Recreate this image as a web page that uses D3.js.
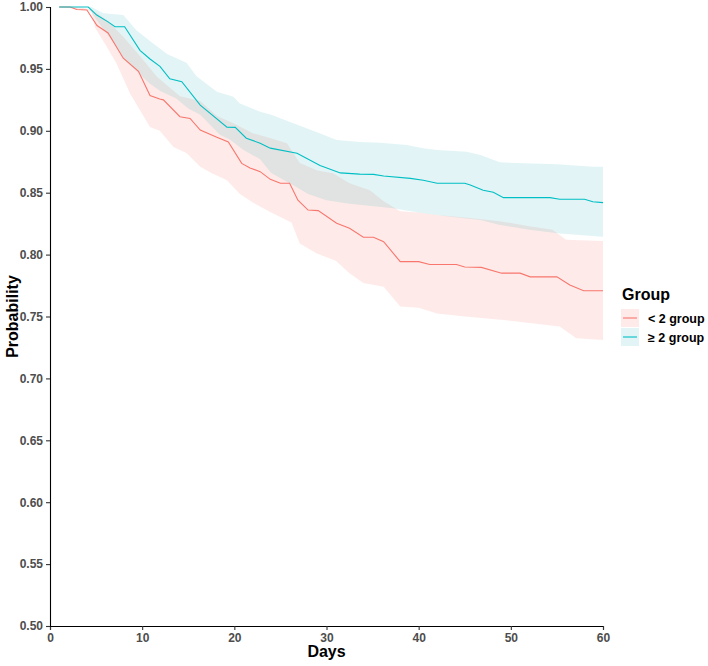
<!DOCTYPE html>
<html>
<head>
<meta charset="utf-8">
<script src="https://cdn.jsdelivr.net/npm/d3@7"></script>
<style>
  html, body { margin: 0; padding: 0; background: #fff; }
  svg { display: block; font-family: "Liberation Sans", Arial, sans-serif; }
</style>
</head>
<body>
<svg id="chart" width="708" height="666"></svg>
<script>
// ---------- DATA ----------
const groups = ["< 2 group", "\u2265 2 group"];
const xTicks = [0, 10, 20, 30, 40, 50, 60];
const yTicks = [0.50, 0.55, 0.60, 0.65, 0.70, 0.75, 0.80, 0.85, 0.90, 0.95, 1.00];

// < 2 group : survival line
const lowDays = [1, 2.2, 2.9, 4.0, 5.1, 6.3, 7.95, 9.6, 10.85, 11.9, 12.3, 14.1, 15.2, 16.3, 18.1, 19.35, 20.8, 21.7, 22.8, 23.9, 25.0, 26.0, 26.9, 28.0, 29.1, 31.1, 32.5, 34.0, 35.1, 36.2, 38.0, 40.0, 41.2, 44.1, 45.0, 46.8, 49.0, 51.0, 52.1, 55.0, 56.4, 57.9, 60];
const lowSurv = [1, 1, 0.998, 0.9976, 0.985, 0.979, 0.9586, 0.948, 0.9285, 0.9257, 0.925, 0.9114, 0.910, 0.9006, 0.8947, 0.891, 0.8737, 0.870, 0.867, 0.8608, 0.8576, 0.8576, 0.844, 0.836, 0.8355, 0.8253, 0.8212, 0.814, 0.814, 0.8104, 0.7943, 0.7943, 0.792, 0.792, 0.790, 0.7897, 0.785, 0.785, 0.782, 0.782, 0.7754, 0.7708, 0.7708];
// < 2 group : confidence band
const lowUpperDays = [1, 3, 4.5, 6.15, 7.95, 9.8, 11.6, 14.1, 16.3, 18.1, 19.9, 22, 23.5, 25.7, 27.1, 29, 30.7, 32.5, 34.7, 36.2, 38, 40, 42, 45, 48.8, 52, 54.5, 56, 60];
const lowUpper = [1, 1, 0.998, 0.9895, 0.976, 0.96, 0.9437, 0.928, 0.924, 0.912, 0.906, 0.898, 0.895, 0.890, 0.874, 0.868, 0.8657, 0.8576, 0.852, 0.843, 0.835, 0.834, 0.832, 0.830, 0.827, 0.823, 0.820, 0.812, 0.811];
const lowLowerDays = [1, 4.0, 4.5, 4.9, 6, 7.2, 8.7, 10.85, 11.9, 13.4, 14.8, 16.3, 17.5, 19.2, 20.6, 22, 24, 26.2, 27.1, 28.9, 31, 32.5, 34, 36.2, 38, 40, 42, 45, 49.5, 55.3, 57.1, 60];
const lowLower = [1, 0.9976, 0.996, 0.983, 0.97, 0.9545, 0.930, 0.903, 0.9, 0.887, 0.882, 0.871, 0.866, 0.860, 0.849, 0.842, 0.834, 0.826, 0.809, 0.801, 0.795, 0.785, 0.777, 0.774, 0.758, 0.757, 0.7525, 0.750, 0.747, 0.742, 0.7324, 0.731];

// >= 2 group : survival line
const highDays = [1, 4.15, 5.07, 6.3, 7.05, 8.1, 9.76, 10.85, 11.93, 13.0, 14.3, 16.3, 19.2, 20.1, 21.3, 22.8, 23.9, 26.8, 29.3, 31.5, 33.6, 35.1, 36.2, 39.1, 40.5, 42.0, 45.0, 45.6, 47.0, 48.1, 49.2, 54.25, 55.3, 58.0, 58.9, 60];
const highSurv = [1, 1, 0.9935, 0.988, 0.984, 0.984, 0.965, 0.958, 0.952, 0.942, 0.9397, 0.9208, 0.903, 0.9028, 0.894, 0.890, 0.886, 0.8818, 0.872, 0.866, 0.865, 0.8648, 0.8635, 0.8616, 0.860, 0.8576, 0.8576, 0.8562, 0.852, 0.8503, 0.846, 0.846, 0.8447, 0.8447, 0.8427, 0.842];
// >= 2 group : confidence band
const highUpperDays = [1, 4.5, 5.8, 7.95, 9.4, 11.2, 12.7, 14.8, 15.9, 18.1, 19.9, 20.6, 22.8, 24, 26.4, 28.9, 31.1, 33.6, 35.8, 38.7, 40.5, 42, 45.2, 46.7, 48.8, 55, 58.9, 60];
const highUpper = [1, 1, 0.995, 0.9935, 0.981, 0.9706, 0.962, 0.955, 0.944, 0.9316, 0.9276, 0.922, 0.9154, 0.913, 0.906, 0.899, 0.8926, 0.891, 0.8904, 0.8885, 0.886, 0.8845, 0.883, 0.8805, 0.8745, 0.873, 0.871, 0.871];
const highLowerDays = [1, 4.15, 5, 6, 7.2, 8, 9.8, 10.85, 12, 13.7, 15, 16.3, 18.4, 19.5, 21, 22.8, 24, 26.4, 28, 30, 32.5, 37.2, 40, 43, 46.7, 48.8, 52, 55.3, 60];
const highLower = [1, 1, 0.99, 0.98, 0.968, 0.958, 0.945, 0.938, 0.932, 0.926, 0.918, 0.913, 0.897, 0.893, 0.8845, 0.877, 0.866, 0.856, 0.849, 0.844, 0.841, 0.8375, 0.834, 0.831, 0.828, 0.824, 0.82, 0.817, 0.8145];

// ---------- CHART ----------
const svg = d3.select("#chart");
const x = d3.scaleLinear().domain([0, 60]).range([50, 603]);
const y = d3.scaleLinear().domain([0.5, 1.0]).range([626, 7]);
const colors = ["#F8766D", "#00BFC4"];
const bandColors = ["#F8766D", "#30AFB6"];
const bandOpacity = [0.15, 0.14];

const zip = (xs, ys) => xs.map((d, i) => [d, ys[i]]);
const line = d3.line().x(d => x(d[0])).y(d => y(d[1]));

function band(ud, uv, ld, lv) {
  const pts = zip(ud, uv).concat(zip(ld, lv).reverse());
  return line(pts) + "Z";
}

const bands = [
  band(lowUpperDays, lowUpper, lowLowerDays, lowLower),
  band(highUpperDays, highUpper, highLowerDays, highLower)
];
const lines = [zip(lowDays, lowSurv), zip(highDays, highSurv)];

svg.append("g").selectAll("path").data(bands).join("path")
  .attr("d", d => d)
  .attr("fill", (d, i) => bandColors[i])
  .attr("fill-opacity", (d, i) => bandOpacity[i])
  .attr("stroke", "none");

svg.append("g").selectAll("path").data(lines).join("path")
  .attr("d", line)
  .attr("fill", "none")
  .attr("stroke", (d, i) => colors[i])
  .attr("stroke-width", 1.1);

// axes
const xAxis = d3.axisBottom(x).tickValues(xTicks).tickSize(4).tickPadding(3).tickFormat(d3.format("d"));
const yAxis = d3.axisLeft(y).tickValues(yTicks).tickSize(4).tickPadding(3).tickFormat(d3.format(".2f"));

const gx = svg.append("g").attr("transform", "translate(0,626)").call(xAxis);
const gy = svg.append("g").attr("transform", "translate(50,0)").call(yAxis);
[gx, gy].forEach(g => {
  g.select(".domain").attr("stroke", "#000").attr("stroke-width", 1.1);
  g.selectAll(".tick line").attr("stroke", "#333").attr("stroke-width", 1.1);
  g.selectAll(".tick text")
    .attr("fill", "#4D4D4D")
    .attr("font-size", 12)
    .attr("font-weight", "bold")
    .attr("font-family", "Liberation Sans, Arial, sans-serif");
});

// axis titles
svg.append("text")
  .attr("x", 326.5).attr("y", 657)
  .attr("text-anchor", "middle")
  .attr("font-size", 16).attr("font-weight", "bold")
  .attr("fill", "#000")
  .text("Days");

svg.append("text")
  .attr("transform", "translate(18,316.5) rotate(-90)")
  .attr("text-anchor", "middle")
  .attr("font-size", 16).attr("font-weight", "bold")
  .attr("fill", "#000")
  .text("Probability");

// legend
const lg = svg.append("g").attr("transform", "translate(621,0)");
lg.append("text")
  .attr("x", 1).attr("y", 300)
  .attr("font-size", 16).attr("font-weight", "bold")
  .attr("fill", "#000")
  .text("Group");

const keys = lg.selectAll("g.key").data(groups).join("g")
  .attr("class", "key")
  .attr("transform", (d, i) => `translate(0,${309 + i * 19})`);
keys.append("rect")
  .attr("width", 18).attr("height", 18)
  .attr("fill", (d, i) => bandColors[i])
  .attr("fill-opacity", (d, i) => bandOpacity[i]);
keys.append("line")
  .attr("x1", 2).attr("x2", 16).attr("y1", 9).attr("y2", 9)
  .attr("stroke", (d, i) => colors[i])
  .attr("stroke-width", 1.1);
keys.append("text")
  .attr("x", 27).attr("y", 13.5)
  .attr("font-size", 12.5).attr("font-weight", "bold")
  .attr("fill", "#000")
  .text(d => d);
</script>
</body>
</html>
